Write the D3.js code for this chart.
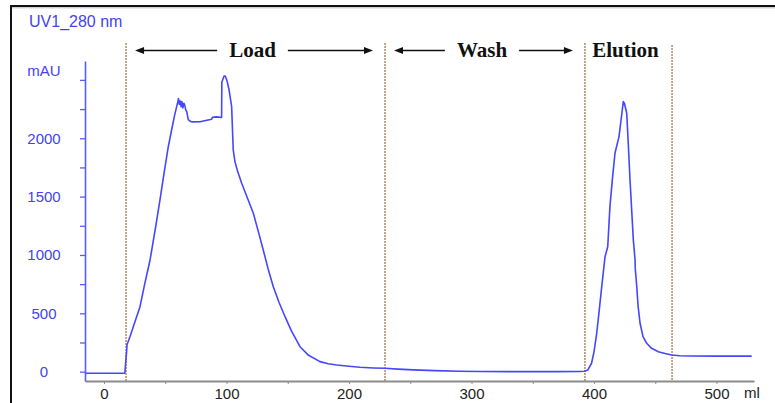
<!DOCTYPE html>
<html>
<head>
<meta charset="utf-8">
<script src="https://cdn.jsdelivr.net/npm/d3@7/dist/d3.min.js"></script>
<style>
  html, body { margin: 0; padding: 0; background: #fff; }
  #svg-container { width: 775px; height: 403px; }
  .axis-blue text { fill: #4343f0; font-family: "Liberation Sans", Arial, sans-serif; font-size: 15px; }
  .axis-gray text { fill: #222; font-family: "Liberation Sans", Arial, sans-serif; font-size: 15px; }
  .phase-label { font-family: "Liberation Serif", "Times New Roman", serif; font-weight: bold; font-size: 21px; fill: #111; }
</style>
</head>
<body>
<div id="svg-container"></div>
<script>
// volume (ml) and absorbance (mAU)
const mlValues = [
  -15, 17, 18.3, 18.8, 21.2, 25, 29.4, 33, 37.6, 42, 45.7, 49, 52.5, 55, 57.4,
  60.2, 60.8, 61.5, 62.2, 63, 63.6, 64.4, 65.2, 66, 66.8, 67.5, 68.8, 70.5, 72,
  78.4, 84, 87.9, 88.5, 92, 96, 96.2, 98, 99, 100.5, 102, 104.2, 105.5, 106.9,
  109, 112.4, 117, 121.9, 126, 130, 134, 138.2, 143, 147.8, 153, 160, 167,
  176.3, 183, 190, 200, 209, 220, 229.4, 240, 252.5, 270, 290, 307, 340, 370,
  388, 392, 395, 398, 400, 402.2, 404, 406.3, 409, 411.2, 413, 415, 417.1,
  420.4, 422, 423.9, 424.8, 426.7, 428, 429.4, 432.1, 433.5, 433.7, 434.9, 436,
  437.6, 440, 443, 447, 452.5, 458, 463.4, 470, 478.4, 500, 528.7
];
const mauValues = [
  -14, -14, 150, 230, 300, 420, 557, 740, 957, 1230, 1471, 1700, 1928, 2060, 2185,
  2310, 2340, 2290, 2320, 2270, 2315, 2260, 2300, 2280, 2240, 2230, 2160, 2145, 2140,
  2142, 2155, 2163, 2180, 2183, 2178, 2480, 2534, 2534, 2490, 2420, 2271, 1900, 1800,
  1720, 1614, 1490, 1357, 1200, 1043, 880, 728, 590, 471, 350, 214, 140,
  86, 68, 57, 46, 38, 32, 29, 22, 15, 9, 4, 1, 0, 0,
  1, 3, 15, 72, 170, 329, 500, 728, 985, 1071, 1414, 1650, 1871,
  2014, 2150, 2314, 2300, 2214, 1950, 1643, 1129, 960, 880, 728, 560,
  415, 300, 243, 200, 171, 155, 143, 137, 134, 133, 133
];

const xTickValues = [0, 50, 100, 150, 200, 250, 300, 350, 400, 450, 500];
const xTickLabels = ["0", "", "100", "", "200", "", "300", "", "400", "", "500"];
const yTickValues = [0, 250, 500, 750, 1000, 1250, 1500, 1750, 2000, 2250, 2500];
const yTickLabels = ["0", "", "500", "", "1000", "", "1500", "", "2000", "", ""];

// phase boundaries (ml) and names
const phaseBounds = [18, 229.4, 392.6, 463.7];
const phaseNames = ["Load", "Wash", "Elution"];
const phaseArrows = [true, true, false];

const width = 775;
const height = 403;
const plot = { left: 85, right: 754, top: 61, bottom: 381 };

const svg = d3.select("#svg-container").append("svg")
  .attr("width", width)
  .attr("height", height);

// scales
const xScale = d3.scaleLinear().domain([-15.5, 530.6]).range([plot.left, plot.right]);
const yScale = d3.scaleLinear().domain([-80, 2662]).range([plot.bottom, plot.top]);

// frame
svg.append("path")
  .attr("d", `M11,${height} V6 H${width}`)
  .attr("fill", "none")
  .attr("stroke", "#111")
  .attr("stroke-width", 2);
svg.append("line")
  .attr("x1", 12).attr("x2", width).attr("y1", 7.8).attr("y2", 7.8)
  .attr("stroke", "#bbb").attr("stroke-width", 1);

// x axis
const xAxis = d3.axisBottom(xScale)
  .tickValues(xTickValues)
  .tickFormat((d, i) => xTickLabels[i])
  .tickSize(3)
  .tickSizeOuter(0)
  .tickPadding(4);

const xAxisGroup = svg.append("g")
  .attr("class", "axis-gray")
  .attr("transform", `translate(0,${plot.bottom})`)
  .call(xAxis);
xAxisGroup.select(".domain").attr("stroke", "#8c8c8c").attr("stroke-width", 2);
xAxisGroup.selectAll(".tick line").attr("stroke", "#8c8c8c");

svg.append("text")
  .attr("x", 744)
  .attr("y", 398)
  .attr("fill", "#222")
  .style("font-family", "Liberation Sans, Arial, sans-serif")
  .style("font-size", "15px")
  .text("ml");

// y axis
const yAxis = d3.axisLeft(yScale)
  .tickValues(yTickValues)
  .tickFormat((d, i) => yTickLabels[i])
  .tickSize(5)
  .tickSizeOuter(0);

const yAxisGroup = svg.append("g")
  .attr("class", "axis-blue")
  .attr("transform", `translate(${plot.left},0)`)
  .call(yAxis);
yAxisGroup.select(".domain").attr("stroke", "#5a5aff").attr("stroke-width", 1.6);
yAxisGroup.selectAll(".tick line").attr("stroke", "#5a5aff").attr("stroke-width", 1.3);
yAxisGroup.selectAll(".tick text")
  .attr("text-anchor", "middle")
  .attr("x", 44 - plot.left);

svg.append("text")
  .attr("x", 44)
  .attr("y", 71)
  .attr("dy", "0.35em")
  .attr("text-anchor", "middle")
  .attr("fill", "#4343f0")
  .style("font-family", "Liberation Sans, Arial, sans-serif")
  .style("font-size", "15px")
  .text("mAU");

svg.append("text")
  .attr("x", 29)
  .attr("y", 27)
  .attr("fill", "#4343f0")
  .style("font-family", "Liberation Sans, Arial, sans-serif")
  .style("font-size", "16px")
  .text("UV1_280 nm");

// phase boundaries
svg.selectAll(".phase-line")
  .data(phaseBounds)
  .enter()
  .append("line")
  .attr("class", "phase-line")
  .attr("x1", (d) => xScale(d))
  .attr("x2", (d) => xScale(d))
  .attr("y1", (d, i) => (i === 3 ? 45 : 43))
  .attr("y2", plot.bottom)
  .attr("stroke", "#a8784a")
  .attr("stroke-width", 1.3)
  .attr("stroke-dasharray", "2,1");

// phase labels + arrows
const arrowY = 50.5;
const drawArrow = (x1, x2) => {
  const dir = Math.sign(x2 - x1);
  svg.append("line")
    .attr("x1", x1).attr("x2", x2 - dir * 6)
    .attr("y1", arrowY).attr("y2", arrowY)
    .attr("stroke", "#111").attr("stroke-width", 1.6);
  svg.append("path")
    .attr("d", `M${x2},${arrowY} L${x2 - dir * 9},${arrowY - 3.5} L${x2 - dir * 9},${arrowY + 3.5} Z`)
    .attr("fill", "#111");
};

phaseNames.forEach((name, i) => {
  const a = xScale(phaseBounds[i]);
  const b = xScale(phaseBounds[i + 1]);
  const cx = (a + b) / 2 - 3;
  const label = svg.append("text")
    .attr("class", "phase-label")
    .attr("x", cx)
    .attr("y", 57)
    .attr("text-anchor", "middle")
    .text(name);
  if (phaseArrows[i]) {
    const w = label.node().getComputedTextLength();
    drawArrow(cx - w / 2 - 12, a + 9);
    drawArrow(cx + w / 2 + 12, b - 12);
  }
});

// trace
const traceData = mlValues.map((v, i) => ({ ml: v, mau: mauValues[i] }));

const line = d3.line()
  .x((d) => xScale(d.ml))
  .y((d) => yScale(d.mau))
  .curve(d3.curveLinear);

svg.append("path")
  .datum(traceData)
  .attr("d", line)
  .attr("fill", "none")
  .attr("stroke", "#4646ff")
  .attr("stroke-width", 1.6)
  .attr("stroke-linejoin", "round");
</script>
</body>
</html>
